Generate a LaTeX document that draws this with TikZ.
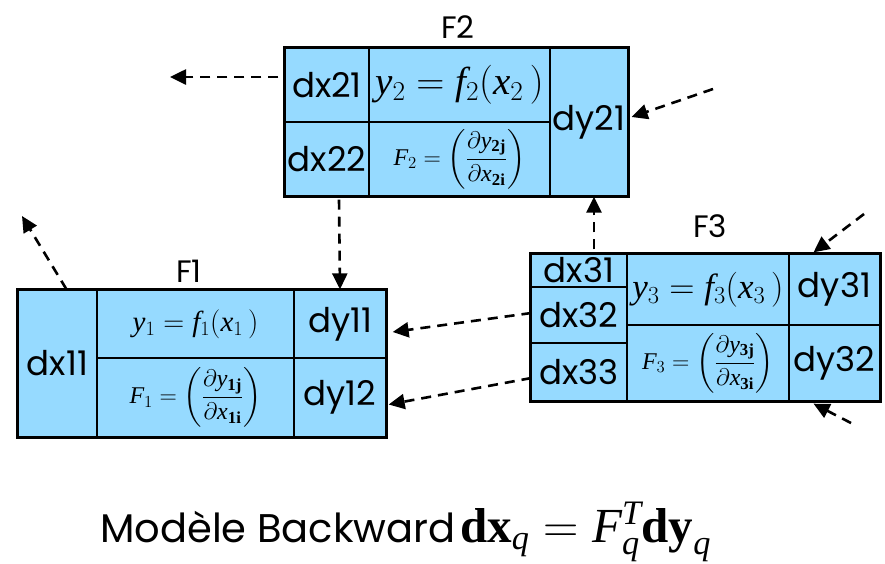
\documentclass[tikz,border=0pt]{standalone}
\usepackage{fix-cm}
\usepackage{amsmath}
\usepackage{fontspec}
\setmainfont{Liberation Serif}
\newfontfamily\geo{Poppins}
\usetikzlibrary{positioning,arrows.meta}
\definecolor{cellblue}{RGB}{150,218,255}
\newcommand{\tallpar}{\vrule width 0pt height 32pt depth 20pt}

\tikzset{
  cell/.style={draw, fill=cellblue, line width=1.3pt, inner sep=0pt,
    font=\geo\fontsize{34}{36}\selectfont},
  frame/.style={line width=2.2pt},
  title/.style={inner sep=0pt, font=\geo\fontsize{31}{33}\selectfont},
  flow/.style={-{Triangle[length=16pt,width=15pt]}, line width=2.6pt,
    dash pattern=on 10pt off 7pt}
}

\begin{document}
\begin{tikzpicture}[x=1pt,y=-1pt]
\useasboundingbox (0,0) rectangle (885,563);

% F2
\node[title] (lblF2) at (458,27) {F2};
\node[cell, minimum width=84pt, minimum height=74pt] (dx21) at (327,85) {dx21};
\node[cell, minimum width=84pt, minimum height=74pt] (dx22) at (327,159) {dx22};
\node[cell, minimum width=181pt, minimum height=74pt, font=\fontsize{39}{41}\selectfont] (f2) at (459.5,85) {$\mathit{y}_2 = \mathit{f}_2(\mathit{x}_2\,)$};
\node[cell, minimum width=181pt, minimum height=74pt, font=\fontsize{24}{26}\selectfont] (jac2) at (459.5,159) {\raisebox{-3pt}{$\mathit{F}_2 = \left(\tallpar\dfrac{\partial \mathit{y}_{\mathbf{2j}}}{\partial \mathit{x}_{\mathbf{2i}}}\right)$}};
\node[cell, minimum width=78pt, minimum height=148pt] (dy21) at (589,122) {dy21};
\draw[frame] (dx21.north west) rectangle (dy21.south east);

% F1
\node[title] (lblF1) at (189,271) {F1};
\node[cell, minimum width=79pt, minimum height=147pt] (dx11) at (57.5,363.5) {dx11};
\node[cell, minimum width=197pt, minimum height=68pt, font=\fontsize{29}{31}\selectfont] (f1) at (195.5,324) {$\mathit{y}_1 = \mathit{f}_1(\mathit{x}_1\,)$};
\node[cell, minimum width=197pt, minimum height=79pt, font=\fontsize{24}{26}\selectfont] (jac1) at (195.5,397.5) {\raisebox{-3pt}{$\mathit{F}_1 = \left(\tallpar\dfrac{\partial \mathit{y}_{\mathbf{1j}}}{\partial \mathit{x}_{\mathbf{1i}}}\right)$}};
\node[cell, minimum width=92pt, minimum height=68pt] (dy11) at (340,324) {dy11};
\node[cell, minimum width=92pt, minimum height=79pt] (dy12) at (340,397.5) {dy12};
\draw[frame] (dx11.north west) rectangle (dy12.south east);

% F3
\node[title] (lblF3) at (710,226) {F3};
\node[cell, minimum width=96pt, minimum height=33pt] (dx31) at (579,270.5) {dx31};
\node[cell, minimum width=96pt, minimum height=56pt] (dx32) at (579,315) {dx32};
\node[cell, minimum width=96pt, minimum height=58pt] (dx33) at (579,372) {dx33};
\node[cell, minimum width=162pt, minimum height=71pt, font=\fontsize{35}{37}\selectfont] (f3) at (708,289.5) {$\mathit{y}_3 = \mathit{f}_3(\mathit{x}_3\,)$};
\node[cell, minimum width=162pt, minimum height=76pt, font=\fontsize{24}{26}\selectfont] (jac3) at (708,363) {\raisebox{-3pt}{$\mathit{F}_3 = \left(\tallpar\dfrac{\partial \mathit{y}_{\mathbf{3j}}}{\partial \mathit{x}_{\mathbf{3i}}}\right)$}};
\node[cell, minimum width=91pt, minimum height=71pt] (dy31) at (834.5,289.5) {dy31};
\node[cell, minimum width=91pt, minimum height=76pt] (dy32) at (834.5,363) {dy32};
\draw[frame] (dx31.north west) rectangle (dy32.south east);

% free ends
\coordinate (out21) at (170,77);
\coordinate (in21) at (713,89);
\coordinate (out11) at (22,216);
\coordinate (in31) at (864,214);
\coordinate (in32) at (851,423);

% flows
\draw[flow] ([shift={(-6,-8)}]dx21.west) -- (out21);
\draw[flow] (in21) -- ([shift={(3,-5)}]dy21.east);
\draw[flow] ([shift={(12,3)}]dx22.south) -- (dy11.north);
\draw[flow] ([shift={(15,-4)}]dx31.north) -- ([xshift=5pt]dy21.south);
\draw[flow] ([shift={(9,0)}]dx11.north) -- (out11);
\draw[flow] ([shift={(1,-2)}]dx32.west) -- ([shift={(6,8)}]dy11.east);
\draw[flow] ([shift={(1,6)}]dx33.west) -- ([shift={(2,7)}]dy12.east);
\draw[flow] (in31) -- ([shift={(-21,-1)}]dy31.north);
\draw[flow] (in32) -- ([shift={(-21,2)}]dy32.south);

% bottom line
\node[anchor=base west, inner sep=0pt, font=\geo\fontsize{40}{42}\selectfont] (model) at (100,542) {Modèle Backward};
\node[anchor=base west, inner sep=0pt, font=\fontsize{49}{51}\selectfont] (eqn) at (460,542) {$\mathbf{dx}_{\mathit{q}} = \mathit{F}_{\mathit{q}}^{\mathit{T}}\mathbf{dy}_{\mathit{q}}$};
\end{tikzpicture}
\end{document}
